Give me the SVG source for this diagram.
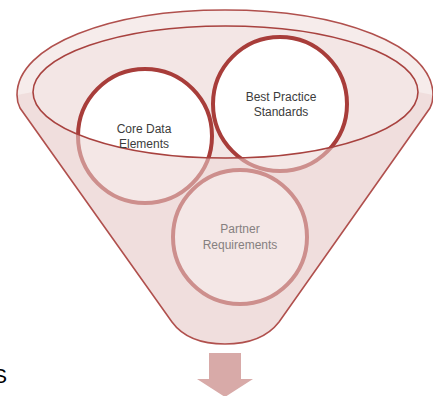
<svg xmlns="http://www.w3.org/2000/svg" width="433" height="396" viewBox="0 0 433 396">
<style>
.funnel{fill:#f6eceb;stroke:none}
.outline{fill:none;stroke:#b0504d;stroke-width:1.6}
.rim{fill:none;stroke:#a8423f;stroke-width:1.6}
.ring{fill:#ffffff;stroke:#a83d3a;stroke-width:4}
.front{fill:#ebd3d2;fill-opacity:0.55;stroke:none}
.lbl{font-family:"Liberation Sans",Arial,sans-serif;font-size:12px;text-anchor:middle}
.dark{fill:#3c3c3c}
.soft{fill:#858080}
</style>
<g id="funnel">
<path class="funnel" d="M 17,95 C 17,45 110,10 225,10 C 340,10 433,45 433,95 C 433,100 432,104 430,108 L 279,322 Q 262,344 225,344 Q 188,344 172,322 L 20,108 C 18,104 17,100 17,95 Z"/>
<ellipse cx="225.5" cy="92" rx="192.5" ry="66" fill="#f3e6e5"/>
</g>
<g id="node-core">
<circle class="ring" cx="145" cy="136" r="67"/>
</g>
<g id="node-best">
<circle class="ring" cx="280" cy="104" r="67"/>
</g>
<g id="node-partner">
<circle class="ring" cx="240" cy="237" r="67"/>
</g>
<g id="funnel-front">
<path class="front" d="M 33,92 A 192.5 66 0 0 0 418,92 L 433,95 C 433,100 432,104 430,108 L 279,322 Q 262,344 225,344 Q 188,344 172,322 L 20,108 C 18,104 17,100 17,95 Z"/>
<path class="outline" d="M 17,95 C 17,45 110,10 225,10 C 340,10 433,45 433,95 C 433,100 432,104 430,108 L 279,322 Q 262,344 225,344 Q 188,344 172,322 L 20,108 C 18,104 17,100 17,95 Z"/>
<ellipse class="rim" cx="225.5" cy="92" rx="192.5" ry="66"/>
</g>
<g id="labels">
<text class="lbl dark" x="144" y="133">Core Data</text>
<text class="lbl dark" x="144" y="148">Elements</text>
<text class="lbl dark" x="281" y="101">Best Practice</text>
<text class="lbl dark" x="281" y="116">Standards</text>
<text class="lbl soft" x="240" y="233">Partner</text>
<text class="lbl soft" x="240" y="249">Requirements</text>
</g>
<g id="connectors">
<path d="M 209,353 L 241,353 L 241,379 L 253,379 L 225,397 L 197,379 L 209,379 Z" fill="#d8aaa8"/>
</g>
<text x="-7" y="383" font-family="Liberation Sans,Arial,sans-serif" font-size="21" fill="#000">S</text>
</svg>
